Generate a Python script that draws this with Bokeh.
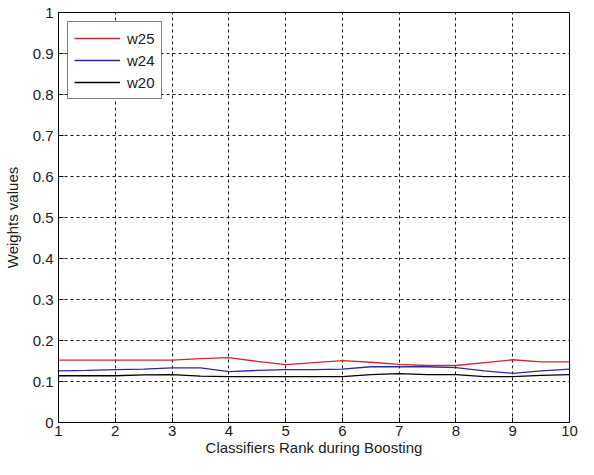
from bokeh.plotting import figure
from bokeh.models import Legend, LegendItem, FixedTicker, ColumnDataSource
from bokeh.core.properties import value
from bokeh.embed import file_html
from bokeh.resources import INLINE

# Data
rank = [1, 1.5, 2, 2.5, 3, 3.5, 4, 4.5, 5, 5.5, 6, 6.5, 7, 7.5, 8, 8.5, 9, 9.5, 10]
w25 = [0.152, 0.152, 0.152, 0.152, 0.152, 0.156, 0.158, 0.149, 0.141, 0.146, 0.151,
       0.147, 0.142, 0.139, 0.139, 0.146, 0.153, 0.148, 0.148]
w24 = [0.126, 0.127, 0.129, 0.130, 0.133, 0.133, 0.124, 0.127, 0.129, 0.129, 0.130,
       0.136, 0.136, 0.136, 0.134, 0.126, 0.120, 0.126, 0.130]
w20 = [0.114, 0.114, 0.114, 0.116, 0.117, 0.113, 0.112, 0.112, 0.112, 0.112, 0.112,
       0.117, 0.119, 0.117, 0.117, 0.112, 0.112, 0.115, 0.117]
series_names = ["w25", "w24", "w20"]
series_colors = ["#d02a2a", "#2b2b9c", "#000000"]
x_ticks = [1, 2, 3, 4, 5, 6, 7, 8, 9, 10]
y_ticks = [0, 0.1, 0.2, 0.3, 0.4, 0.5, 0.6, 0.7, 0.8, 0.9, 1]
x_title = "Classifiers Rank during Boosting"
y_title = "Weights values"

FONT = "Liberation Sans"

p = figure(width=578, height=459, output_backend="svg", toolbar_location=None,
           x_range=(1, 10), y_range=(0, 1),
           min_border_left=56, min_border_right=9, min_border_top=12, min_border_bottom=37)
p.background_fill_color = "white"
p.border_fill_color = "white"
p.outline_line_color = "black"
p.outline_line_width = 1
p.outline_line_alpha = 1

source = ColumnDataSource(dict(x=rank, a=w25, b=w24, c=w20))
renderers = []
for colname, col in zip(["a", "b", "c"], series_colors):
    r = p.line("x", colname, source=source, line_color=col, line_width=1.3)
    renderers.append(r)

for ax, ticks, title in ((p.xaxis[0], x_ticks, x_title), (p.yaxis[0], y_ticks, y_title)):
    ax.ticker = FixedTicker(ticks=ticks)
    ax.axis_label = title
    ax.axis_label_text_font = FONT
    ax.axis_label_text_font_size = "15px"
    ax.axis_label_text_font_style = "normal"
    ax.axis_label_text_color = "#222222"
    ax.major_label_text_font = FONT
    ax.major_label_text_font_size = "15px"
    ax.major_label_text_color = "#222222"
    ax.major_tick_in = 5
    ax.major_tick_out = 0
    ax.minor_tick_in = 0
    ax.minor_tick_out = 0
    ax.axis_line_color = "black"
    ax.major_tick_line_color = "black"

p.xaxis[0].major_label_standoff = 3
p.xaxis[0].axis_label_standoff = 0
p.yaxis[0].major_label_standoff = 5
p.yaxis[0].axis_label_standoff = 9
p.yaxis[0].formatter.use_scientific = False

for g in (p.xgrid[0], p.ygrid[0]):
    g.grid_line_color = "black"
    g.grid_line_dash = "3 3"
    g.grid_line_width = 1
    g.grid_line_alpha = 0.9
p.xgrid[0].ticker = FixedTicker(ticks=x_ticks)
p.ygrid[0].ticker = FixedTicker(ticks=y_ticks)

legend = Legend(items=[LegendItem(label=value(n), renderers=[r]) for n, r in zip(series_names, renderers)],
                location="top_left")
legend.margin = 9
legend.padding = 6
legend.spacing = 2
legend.label_height = 20
legend.glyph_height = 20
legend.glyph_width = 46
legend.label_standoff = 7
legend.label_text_font = FONT
legend.label_text_font_size = "15px"
legend.label_text_color = "#222222"
legend.border_line_color = "black"
legend.border_line_width = 1
legend.background_fill_color = "white"
legend.background_fill_alpha = 1
p.add_layout(legend, "center")

open("out.html", "w").write(file_html(p, INLINE))
